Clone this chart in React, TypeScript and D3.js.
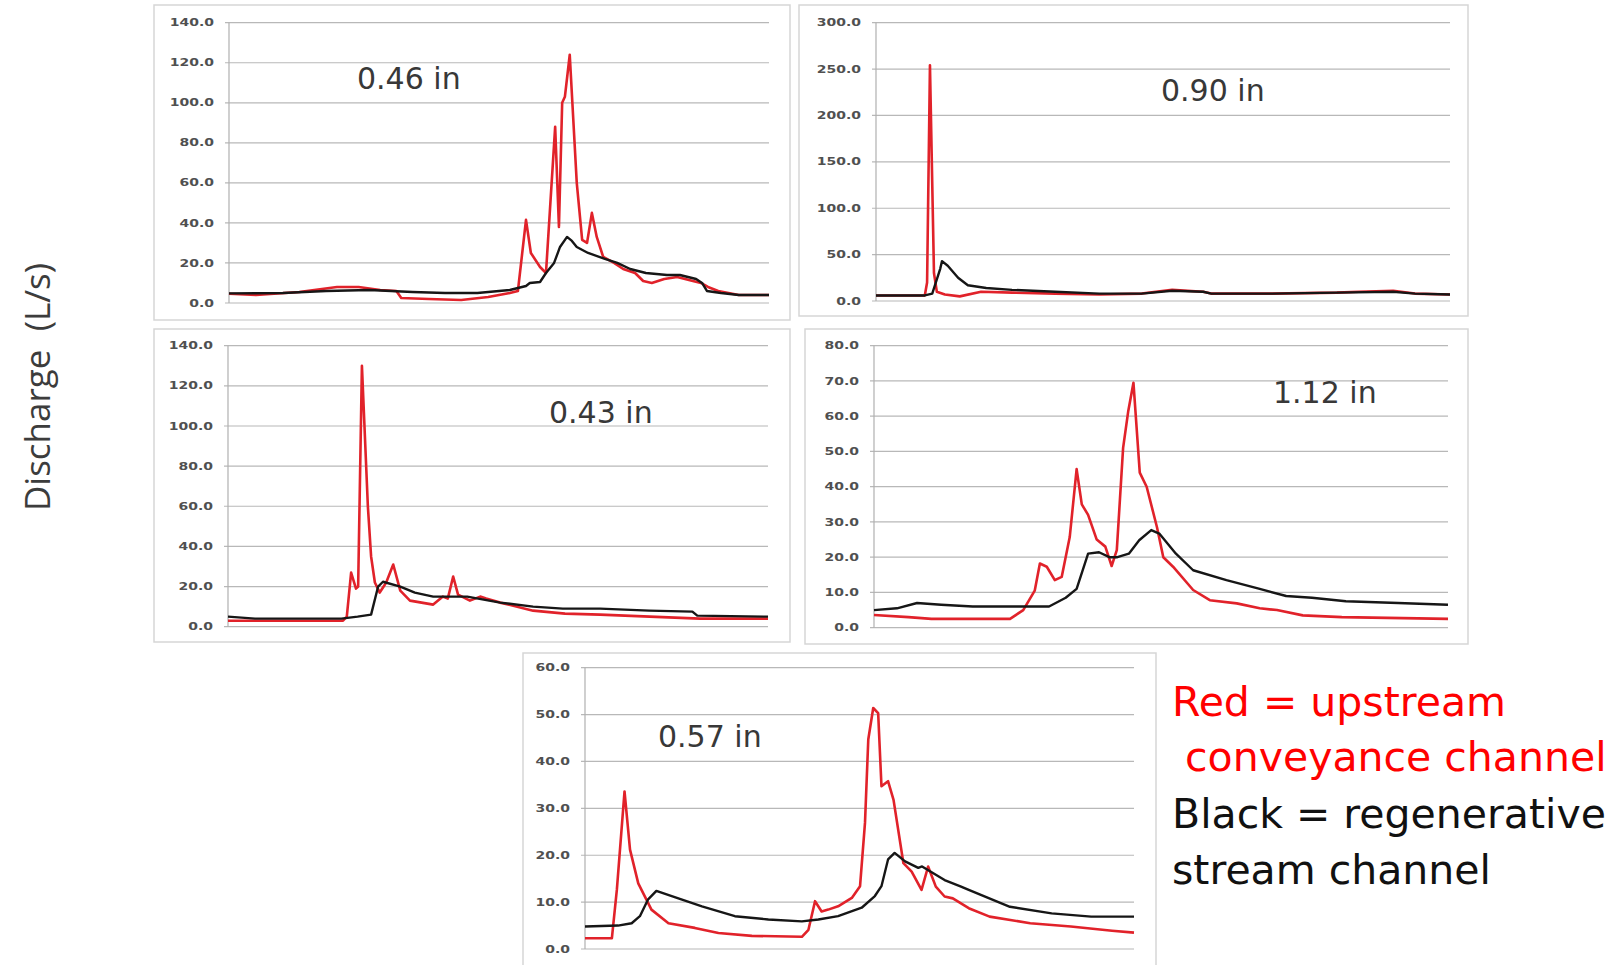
import * as React from "react";
import * as d3 from "d3";

// x = % of the storm record (the original plots carry no time labels), y = discharge in L/s
const p1Red: [number, number][] = [[0,4.6],[5,4],[13,5.5],[20,8],[24,8],[28,6.5],[31,6],[31.9,2.5],[37,2],[43,1.5],[48,3],[52,5],[53.5,6],[55,41.5],[55.9,25],[57.6,18],[58.7,15],[60.4,88],[61.1,38],[61.7,100],[62.2,103],[63.1,124],[64.4,60],[65.4,31.5],[66.3,30],[67.2,45],[68.1,33],[69.3,23],[71.3,20],[73,17],[75.2,15],[76.7,11],[78.3,10],[80.6,12],[83,13],[85.9,11],[87.4,10],[88.7,8],[90.6,6],[94.4,4],[100,4]];
const p1Black: [number, number][] = [[0,4.8],[10,5],[18,6],[26,6.5],[34,5.5],[40,5],[46,5],[52,6.5],[55,8.5],[55.7,10],[57.6,10.5],[58.7,15],[60.2,20],[61.3,28],[62.6,33],[63.5,31],[64.4,28],[66.5,25],[69.6,22],[71.9,20],[74.3,17],[77.2,15],[81.1,14],[83.5,14],[86.5,12],[87.6,10],[88.5,6],[91.1,5],[94.4,4],[100,4]];

const p2Red: [number, number][] = [[0,6],[8.5,6],[8.9,20],[9.4,254],[10.1,30],[10.6,10],[12,7],[14.6,5],[18.3,10],[23.7,9],[31.2,8],[38.9,7],[46.3,8],[51.6,12],[57,10],[58.4,8],[69,8],[80.3,9],[84.1,10],[90.1,11],[93.9,8],[100,7]];
const p2Black: [number, number][] = [[0,6],[8.5,6],[9.8,8],[11.2,35],[11.5,43],[12.5,38],[14.3,25],[16,17],[19.2,14],[23.7,12],[31.2,10],[38.9,8],[46.3,8],[51.6,11],[57,10],[58.4,8],[69,8],[80.3,9],[90.1,10],[93.9,8],[100,7]];

const p3Red: [number, number][] = [[0,3],[21.3,3],[22,5],[22.8,27],[23.7,19],[24.1,20],[24.8,130],[25.9,60],[26.5,35],[27.2,22],[28.1,17],[29.3,22],[30.6,31],[31.9,18],[33.7,13],[38,11],[39.8,15],[40.7,14],[41.7,25],[42.6,16],[44.8,13],[46.7,15],[47.8,14],[50.4,12],[56.5,8],[62.4,6.5],[68.9,6],[78.1,5],[87.4,4],[100,4]];
const p3Black: [number, number][] = [[0,5],[5,4],[21,4],[24,5],[26.5,6],[27.8,20],[28.7,22.4],[31.9,20],[34.6,17],[38,15],[44.3,15],[50.4,12],[56.5,10],[62,9],[68.9,9],[78,8],[86,7.5],[86.9,5.5],[100,5]];

const p4Red: [number, number][] = [[0,3.6],[6,3],[10,2.5],[23.7,2.5],[26,5],[28,10.5],[28.9,18.2],[30.1,17.3],[31.5,13.5],[32.7,14.4],[34.1,25.7],[35.3,45],[36.2,35],[37.3,32],[38.8,25],[40.3,23],[41.4,17.5],[42.3,22],[43.4,51],[44.3,61.5],[45.2,69.5],[46.3,44],[47.5,40],[49.3,28.5],[50.4,20],[52.1,17.3],[55.6,10.7],[58.5,7.8],[63.2,6.9],[67.2,5.5],[70.2,5],[74.7,3.5],[81.5,3],[100,2.5]];
const p4Black: [number, number][] = [[0,5],[4,5.5],[7.5,7],[11.7,6.5],[17.2,6],[30.5,6],[33.4,8.5],[35.3,11],[37.3,21],[39.2,21.4],[41,20],[42.4,20],[44.4,21],[46.2,24.8],[48.3,27.7],[49.7,26.7],[52.6,21],[55.6,16.3],[61.4,13.5],[67.2,11],[71.8,9],[76.3,8.5],[82.2,7.5],[91.3,7],[100,6.5]];

const p5Red: [number, number][] = [[0,2.3],[4.9,2.3],[5.8,12.6],[7.2,33.6],[8.2,21.2],[9.7,14],[12.1,8.4],[15.2,5.5],[20,4.5],[24.3,3.4],[30.4,2.8],[39.5,2.6],[40.7,4.1],[41.9,10.2],[43.1,8],[44.3,8.4],[46.1,9.1],[48.6,10.9],[50.1,13.4],[51,26.9],[51.6,44.7],[52.5,51.4],[53.4,50.3],[54,34.7],[55.2,35.8],[56.2,31.8],[58,18.3],[59.5,16.5],[61.3,12.6],[62.5,17.6],[63.9,13.3],[65.5,11.2],[67,10.8],[69.9,8.7],[73.7,6.9],[81.1,5.5],[88.5,4.8],[96,3.9],[100,3.5]];
const p5Black: [number, number][] = [[0,4.8],[6,5],[8.5,5.5],[10,7],[11.5,10.6],[13,12.4],[15.8,11.3],[21.3,9.1],[27.3,7],[33.4,6.3],[39.5,5.9],[42.5,6.3],[46.1,7],[50.4,8.8],[52.8,11.3],[54,13.4],[55.2,19.1],[56.4,20.5],[58.3,18.7],[60.7,17.3],[61.4,17.6],[65.5,14.7],[68.5,13.3],[69.9,12.6],[77.4,9],[85,7.6],[92.2,6.9],[100,6.9]];

const rainfall = ["0.46 in", "0.90 in", "0.43 in", "1.12 in", "0.57 in"];
const yMaxes = [140, 300, 140, 80, 60];
const ySteps = [20, 50, 20, 10, 10];

const yLabel = "Discharge  (L/s)";
const legendRed = ["Red = upstream", " conveyance channel"];
const legendBlack = ["Black = regenerative", "stream channel"];

const RED = "#e1222a";
const BLACK = "#161616";

// frame box, plot box [left, top, right, bottom], title anchor
const layout = [
  { frame: [154, 5, 790, 320], plot: [229, 22.7, 769, 303], title: [357, 89] },
  { frame: [799, 5, 1468, 316], plot: [876, 22.7, 1450, 301], title: [1161, 101] },
  { frame: [154, 329, 790, 642], plot: [228, 345.7, 768, 626.7], title: [549, 423] },
  { frame: [805, 329, 1468, 644], plot: [874, 345.7, 1448, 627.7], title: [1273, 403] },
  { frame: [523, 653, 1156, 972], plot: [585, 667.7, 1134, 949], title: [658, 747] },
];

const series = [
  [p1Red, p1Black],
  [p2Red, p2Black],
  [p3Red, p3Black],
  [p4Red, p4Black],
  [p5Red, p5Black],
];

function Panel(props: { i: number }) {
  const { i } = props;
  const { frame, plot, title } = layout[i];
  const [red, black] = series[i];
  const x = d3.scaleLinear().domain([0, 100]).range([plot[0], plot[2]]);
  const y = d3.scaleLinear().domain([0, yMaxes[i]]).range([plot[3], plot[1]]);
  const line = d3.line<[number, number]>().x(d => x(d[0])).y(d => y(d[1]));
  const ticks = d3.range(0, yMaxes[i] + 0.001, ySteps[i]);
  const fmt = d3.format(".1f");

  return (
    <g>
      <rect x={frame[0]} y={frame[1]} width={frame[2] - frame[0]} height={frame[3] - frame[1]}
        fill="#fff" stroke="#d6d6d6" strokeWidth={1.5} />
      {ticks.map(t => (
        <g key={t}>
          <line x1={plot[0] - 4} x2={plot[2]} y1={y(t)} y2={y(t)} stroke="#b8b8b8" strokeWidth={1.2} />
          <text transform={`translate(${plot[0] - 15},${y(t) + 3.6}) scale(1.4,1)`} textAnchor="end"
            fontFamily="DejaVu Sans" fontSize={10} fontWeight="bold" fill="#505050">{fmt(t)}</text>
        </g>
      ))}
      <line x1={plot[0]} x2={plot[0]} y1={plot[1]} y2={plot[3]} stroke="#b0b0b0" strokeWidth={1.2} />
      <text x={title[0]} y={title[1]} fontFamily="DejaVu Sans" fontSize={30} fill="#383838">{rainfall[i]}</text>
      <path d={line(red) || ""} fill="none" stroke={RED} strokeWidth={2.6} strokeLinejoin="round" />
      <path d={line(black) || ""} fill="none" stroke={BLACK} strokeWidth={2.4} strokeLinejoin="round" />
    </g>
  );
}

export default function App() {
  return (
    <svg width={1619} height={965} style={{ position: "absolute", left: 0, top: 0, background: "#fff" }}>
      <rect width={1619} height={965} fill="#fff" />
      {layout.map((_, i) => <Panel key={i} i={i} />)}
      <text transform="translate(50,387) rotate(-90)" textAnchor="middle" fontFamily="Open Sans"
        fontSize={35} fill="#3c3c3c" style={{ whiteSpace: "pre" }}>{yLabel}</text>
      <g fontFamily="DejaVu Sans" fontSize={41}>
        <text x={1172} y={716} fill="#ff0000">{legendRed[0]}</text>
        <text x={1172} y={771} fill="#ff0000" style={{ whiteSpace: "pre" }}>{legendRed[1]}</text>
        <text x={1172} y={828} fill="#111">{legendBlack[0]}</text>
        <text x={1172} y={884} fill="#111">{legendBlack[1]}</text>
      </g>
    </svg>
  );
}
